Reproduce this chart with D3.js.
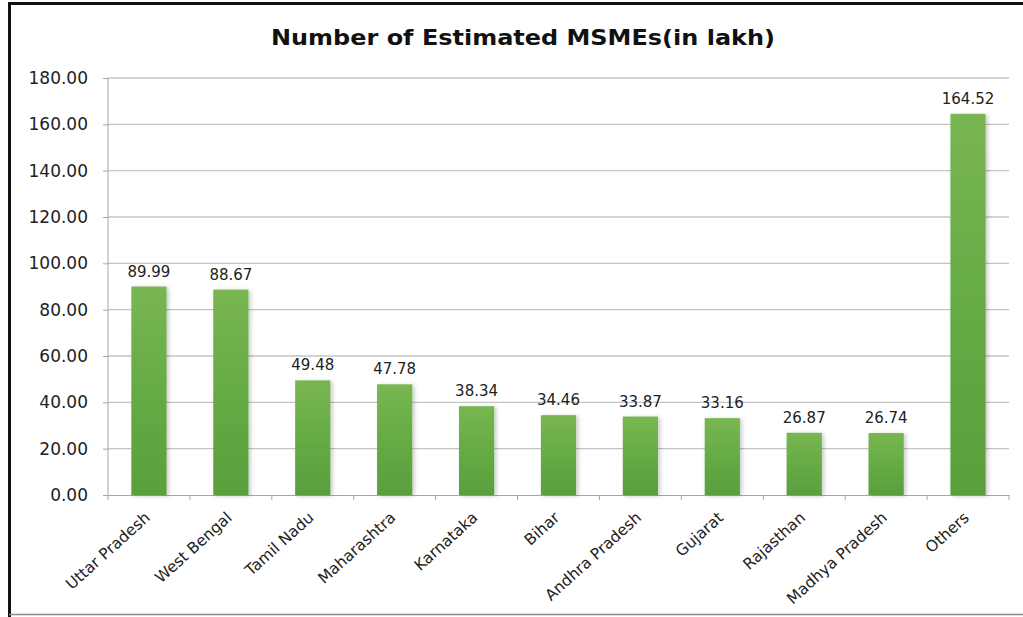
<!DOCTYPE html>
<html>
<head>
<meta charset="utf-8">
<script src="https://cdn.jsdelivr.net/npm/d3@7"></script>
<style>
  body { margin: 0; background: #fff; }
  svg { display: block; }
</style>
</head>
<body>
<svg id="chart" width="1023" height="617"></svg>
<script>
// values (lakh)
const states = ['Uttar Pradesh', 'West Bengal', 'Tamil Nadu', 'Maharashtra', 'Karnataka',
    'Bihar', 'Andhra Pradesh', 'Gujarat', 'Rajasthan', 'Madhya Pradesh', 'Others'];
const msmes = [89.99, 88.67, 49.48, 47.78, 38.34, 34.46, 33.87, 33.16, 26.87, 26.74, 164.52];
const yTicks = [0, 20, 40, 60, 80, 100, 120, 140, 160, 180];

const svg = d3.select('#chart');
const font = "'DejaVu Sans', sans-serif";
const margin = { left: 108, right: 1009, top: 78, bottom: 495 };

// frame
svg.append('line').attr('x1', 9).attr('x2', 1023).attr('y1', 3.5).attr('y2', 3.5)
    .attr('stroke', '#111').attr('stroke-width', 3);
svg.append('line').attr('x1', 9.5).attr('x2', 9.5).attr('y1', 2).attr('y2', 617)
    .attr('stroke', '#111').attr('stroke-width', 3);
svg.append('line').attr('x1', 9).attr('x2', 1023).attr('y1', 614.5).attr('y2', 614.5)
    .attr('stroke', '#888').attr('stroke-width', 1.5);

const defs = svg.append('defs');
const grad = defs.append('linearGradient').attr('id', 'barGrad')
    .attr('x1', 0).attr('y1', 0).attr('x2', 0).attr('y2', 1);
grad.append('stop').attr('offset', '0%').attr('stop-color', '#79b652');
grad.append('stop').attr('offset', '50%').attr('stop-color', '#66ab44');
grad.append('stop').attr('offset', '100%').attr('stop-color', '#5a9f3d');
const shadow = defs.append('filter').attr('id', 'shadow')
    .attr('x', '-30%').attr('y', '-10%').attr('width', '160%').attr('height', '120%');
shadow.append('feDropShadow').attr('dx', 2).attr('dy', 1).attr('stdDeviation', 2)
    .attr('flood-color', '#000').attr('flood-opacity', 0.22);

const x = d3.scaleBand().domain(states).range([margin.left, margin.right]).paddingInner(0.57).paddingOuter(0.285);
const y = d3.scaleLinear().domain([0, 180]).range([margin.bottom, margin.top]);

// gridlines
svg.append('g').selectAll('line').data(yTicks.slice(1)).join('line')
    .attr('x1', margin.left).attr('x2', margin.right)
    .attr('y1', d => y(d)).attr('y2', d => y(d))
    .attr('stroke', '#c4c4c4').attr('stroke-width', 1.3);

// y axis
const yAxis = svg.append('g').attr('transform', `translate(${margin.left},0)`)
    .call(d3.axisLeft(y).tickValues(yTicks).tickFormat(d3.format('.2f')).tickSize(5).tickPadding(15));
yAxis.select('.domain').attr('stroke', '#a6a6a6').attr('d', `M0,${margin.top}V${margin.bottom}`);
yAxis.selectAll('.tick line').attr('stroke', '#a6a6a6');
yAxis.selectAll('text').attr('font-family', font).attr('font-size', 17).attr('fill', '#222');

// x axis
const xAxis = svg.append('g').attr('transform', `translate(0,${margin.bottom})`)
    .call(d3.axisBottom(x).tickSize(0).tickSizeOuter(0));
xAxis.select('.domain').attr('stroke', '#a6a6a6');
// category boundary ticks
xAxis.selectAll('.bound').data(d3.range(states.length + 1)).join('line')
    .attr('class', 'bound')
    .attr('x1', i => margin.left + i * x.step())
    .attr('x2', i => margin.left + i * x.step())
    .attr('y1', 0).attr('y2', 5).attr('stroke', '#a6a6a6');
xAxis.selectAll('.tick text')
    .attr('font-family', font).attr('font-size', 15.5).attr('fill', '#222')
    .attr('text-anchor', 'end').attr('dy', 0).attr('y', 0)
    .attr('transform', 'translate(2,24) rotate(-42)');

// bars
svg.append('g').selectAll('rect').data(states).join('rect')
    .attr('x', d => x(d))
    .attr('y', (d, i) => y(msmes[i]))
    .attr('width', x.bandwidth())
    .attr('height', (d, i) => y(0) - y(msmes[i]))
    .attr('fill', 'url(#barGrad)')
    .attr('filter', 'url(#shadow)');

// value labels
svg.append('g').selectAll('text').data(states).join('text')
    .attr('x', d => x(d) + x.bandwidth() / 2)
    .attr('y', (d, i) => y(msmes[i]) - 10)
    .attr('text-anchor', 'middle')
    .attr('font-family', font).attr('font-size', 15).attr('fill', '#222')
    .text((d, i) => msmes[i].toFixed(2));

// title
svg.append('text')
    .attr('x', 523).attr('y', 45)
    .attr('text-anchor', 'middle')
    .attr('font-family', font).attr('font-size', 21).attr('font-weight', 'bold').attr('fill', '#111')
    .attr('textLength', 504).attr('lengthAdjust', 'spacingAndGlyphs')
    .text('Number of Estimated MSMEs(in lakh)');
</script>
</body>
</html>
